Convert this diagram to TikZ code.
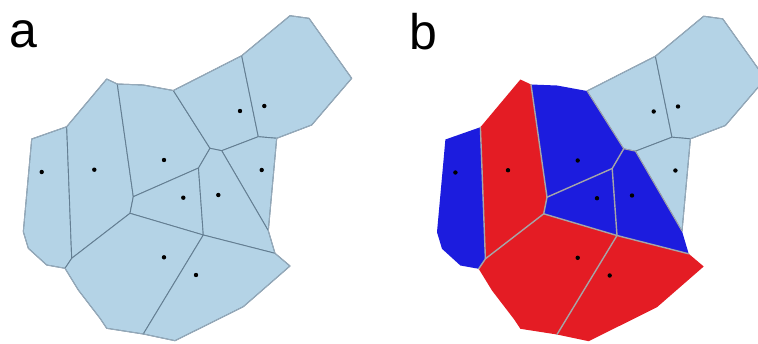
\documentclass[tikz,border=0pt]{standalone}
\usepackage{fontspec}
\setmainfont{Liberation Sans}
\definecolor{lb}{RGB}{180,211,230}
\definecolor{edgec}{RGB}{100,126,146}
\definecolor{outerc}{RGB}{150,170,186}
\definecolor{bl}{RGB}{28,28,222}
\definecolor{rd}{RGB}{228,28,36}
\definecolor{sepc}{RGB}{165,165,168}
\tikzset{
  inner/.style={draw=edgec, line width=0.9pt, line join=round},
  outline/.style={draw=outerc, line width=1pt, line join=round},
  sep/.style={draw=sepc, line width=1.4pt, line join=round, line cap=round},
  seed/.style={fill=black},
  lbl/.style={font=\fontsize{50}{50}\selectfont, anchor=base west, inner sep=0pt, text=black}
}
\newcommand\defpts{%
  \coordinate (V1) at (31.7,139);
  \coordinate (V2) at (66.7,126.7);
  \coordinate (V3) at (106.7,79);
  \coordinate (V4) at (117.3,84);
  \coordinate (V5) at (143.3,85);
  \coordinate (V6) at (173.3,90.5);
  \coordinate (V7) at (241.7,55.7);
  \coordinate (V8) at (290,15.7);
  \coordinate (V9) at (309,18.3);
  \coordinate (V10) at (351.7,78.3);
  \coordinate (V11) at (311.7,125);
  \coordinate (V12) at (276.7,138.3);
  \coordinate (V13) at (268.3,230.7);
  \coordinate (V14) at (275,253.3);
  \coordinate (V15) at (290,266);
  \coordinate (V16) at (243.3,306.7);
  \coordinate (V17) at (175,340.7);
  \coordinate (V18) at (143.3,334);
  \coordinate (V19) at (106.7,328.3);
  \coordinate (V20) at (100,318.3);
  \coordinate (V21) at (78.3,290);
  \coordinate (V22) at (65,268.3);
  \coordinate (V23) at (46.7,265);
  \coordinate (V24) at (28.3,248.3);
  \coordinate (V25) at (23.3,231.7);
  \coordinate (J1) at (71.7,258.3);
  \coordinate (J2) at (130,213.3);
  \coordinate (J3) at (133.3,196.7);
  \coordinate (J4) at (198.5,168);
  \coordinate (J5) at (210,148.3);
  \coordinate (J6) at (221.7,150.7);
  \coordinate (J7) at (258.3,136.7);
  \coordinate (J8) at (203.3,235);
  \coordinate (S1) at (41.7,172);
  \coordinate (S2) at (94.3,169.7);
  \coordinate (S3) at (164,160);
  \coordinate (S4) at (240,111);
  \coordinate (S5) at (264.3,106);
  \coordinate (S6) at (261.7,170);
  \coordinate (S7) at (183.3,197.7);
  \coordinate (S8) at (218.3,195);
  \coordinate (S9) at (164,257.3);
  \coordinate (S10) at (196,275);
}
\newcommand\cellone{(V1) -- (V2) -- (J1) -- (V22) -- (V23) -- (V24) -- (V25) -- cycle}
\newcommand\celltwo{(V2) -- (V3) -- (V4) -- (J3) -- (J2) -- (J1) -- cycle}
\newcommand\cellthree{(V4) -- (V5) -- (V6) -- (J5) -- (J4) -- (J3) -- cycle}
\newcommand\cellfour{(V6) -- (V7) -- (J7) -- (J6) -- (J5) -- cycle}
\newcommand\cellfive{(V7) -- (V8) -- (V9) -- (V10) -- (V11) -- (V12) -- (J7) -- cycle}
\newcommand\cellsix{(J7) -- (V12) -- (V13) -- (J6) -- cycle}
\newcommand\cellseven{(J2) -- (J3) -- (J4) -- (J8) -- cycle}
\newcommand\celleight{(J4) -- (J5) -- (J6) -- (V13) -- (V14) -- (J8) -- cycle}
\newcommand\cellnine{(J1) -- (J2) -- (J8) -- (V18) -- (V19) -- (V20) -- (V21) -- (V22) -- cycle}
\newcommand\cellten{(J8) -- (V14) -- (V15) -- (V16) -- (V17) -- (V18) -- cycle}
\newcommand\seeds{%
  \foreach \s in {S1,S2,S3,S4,S5,S6,S7,S8,S9,S10} \fill[seed] (\s) circle[radius=2.2pt];
}
\begin{document}
\begin{tikzpicture}[x=1pt,y=-1pt]
\useasboundingbox (0,0) rectangle (758,343);
\fill[white] (0,0) rectangle (758,343);
% ---------- panel a ----------
\begin{scope}
  \defpts
  \foreach \c in {\cellone,\celltwo,\cellthree,\cellfour,\cellfive,\cellsix,\cellseven,\celleight,\cellnine,\cellten}
    \filldraw[fill=lb, inner] \c;
  \draw[outline] (V1) -- (V2) -- (V3) -- (V4) -- (V5) -- (V6) -- (V7) -- (V8) -- (V9) -- (V10) -- (V11) -- (V12) -- (V13) -- (V14) -- (V15) -- (V16) -- (V17) -- (V18) -- (V19) -- (V20) -- (V21) -- (V22) -- (V23) -- (V24) -- (V25) -- cycle;
  \seeds
\end{scope}
\node[lbl] (la) at (9.5,47.5) {a};
% ---------- panel b ----------
\begin{scope}[shift={(413.7,0.5)}]
  \defpts
  \filldraw[fill=lb, inner] \cellfour;
  \filldraw[fill=lb, inner] \cellfive;
  \filldraw[fill=lb, inner] \cellsix;
  \draw[outline] (V6) -- (V7) -- (V8) -- (V9) -- (V10) -- (V11) -- (V12) -- (V13);
  \fill[bl] \cellone;
  \fill[rd] \celltwo;
  \fill[bl] \cellthree;
  \fill[bl] \cellseven;
  \fill[bl] \celleight;
  \fill[rd] \cellnine;
  \fill[rd] \cellten;
  \draw[sep] (V2) -- (J1) -- (V22);
  \draw[sep] (J1) -- (J2) -- (J3) -- (V4);
  \draw[sep] (J3) -- (J4) -- (J5);
  \draw[sep] (J4) -- (J8);
  \draw[sep] (J2) -- (J8) -- (V14);
  \draw[sep] (J8) -- (V18);
  \draw[sep, line width=0.9pt] (V6) -- (J5) -- (J6) -- (V13);
  \seeds
\end{scope}
\node[lbl] (lb) at (409,49) {b};
\end{tikzpicture}
\end{document}
